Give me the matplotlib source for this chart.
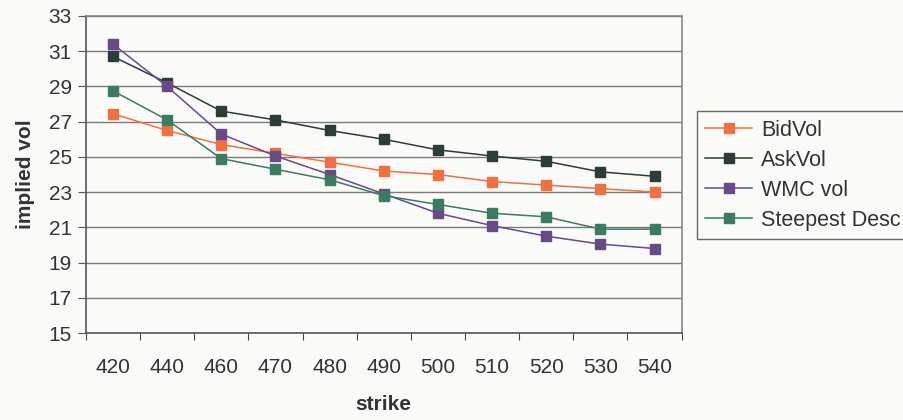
import matplotlib.pyplot as plt
import numpy as np

strikes = ["420", "440", "460", "470", "480", "490", "500", "510", "520", "530", "540"]
bid_vol = [27.45, 26.5, 25.7, 25.2, 24.7, 24.2, 24.0, 23.6, 23.4, 23.2, 23.0]
ask_vol = [30.7, 29.2, 27.6, 27.1, 26.5, 26.0, 25.4, 25.05, 24.75, 24.15, 23.9]
wmc_vol = [31.4, 29.0, 26.3, 25.05, 24.0, 22.9, 21.8, 21.1, 20.5, 20.05, 19.8]
steepest_desc = [28.75, 27.1, 24.9, 24.3, 23.7, 22.8, 22.3, 21.8, 21.6, 20.9, 20.9]

SERIES = [
    ("BidVol", bid_vol, "#F07040"),
    ("AskVol", ask_vol, "#2B3D36"),
    ("WMC vol", wmc_vol, "#674A88"),
    ("Steepest Desc", steepest_desc, "#3A7B62"),
]

plt.rcParams["font.family"] = ["Liberation Sans", "DejaVu Sans"]
BG = "#FAFAF8"
TEXT = "#333333"

fig = plt.figure(figsize=(9.04, 4.2), dpi=100, facecolor=BG)
ax = fig.add_axes([0.095, 0.207, 0.659, 0.755], facecolor=BG)

x = np.arange(len(strikes))
for label, values, color in SERIES:
    ax.plot(x, values, color=color, linewidth=1.1, marker="s", markersize=7.5,
            markerfacecolor=color, markeredgecolor=color, label=label)

ax.set_xlim(-0.5, len(strikes) - 0.5)
ax.set_ylim(15, 33)
ax.set_yticks(np.arange(15, 34, 2))
ax.yaxis.grid(True, color="#7a7a7a", linewidth=1.0)
ax.set_axisbelow(True)

# category boundaries carry the tick marks, labels sit at the centres
ax.set_xticks(np.arange(-0.5, len(strikes), 1.0))
ax.set_xticklabels([])
ax.set_xticks(x, minor=True)
ax.set_xticklabels(strikes, minor=True)
ax.tick_params(axis="x", which="major", direction="out", length=5, color="#444444")
ax.tick_params(axis="x", which="minor", length=0, pad=18, labelsize=15, labelcolor=TEXT)
ax.tick_params(axis="y", direction="out", length=6, color="#555555", labelsize=15,
               labelcolor=TEXT, pad=4)

for side in ["left", "bottom"]:
    ax.spines[side].set_color("#555555")
    ax.spines[side].set_linewidth(1.2)
for side in ["top", "right"]:
    ax.spines[side].set_color("#888888")
    ax.spines[side].set_linewidth(1.2)

ax.set_xlabel("strike", fontsize=15, fontweight="bold", color=TEXT, labelpad=13)
ax.set_ylabel("implied vol", fontsize=15, fontweight="bold", color=TEXT, labelpad=10)

leg = ax.legend(loc="upper left", bbox_to_anchor=(1.025, 0.70), fontsize=15.5,
                frameon=True, fancybox=False, edgecolor="#444444", facecolor=BG,
                handlelength=2.2, handletextpad=0.4, labelspacing=0.42,
                borderpad=0.4, borderaxespad=0)
leg.get_frame().set_linewidth(1.0)
for text in leg.get_texts():
    text.set_color(TEXT)

fig.savefig("out.png", dpi=100, facecolor=BG)
